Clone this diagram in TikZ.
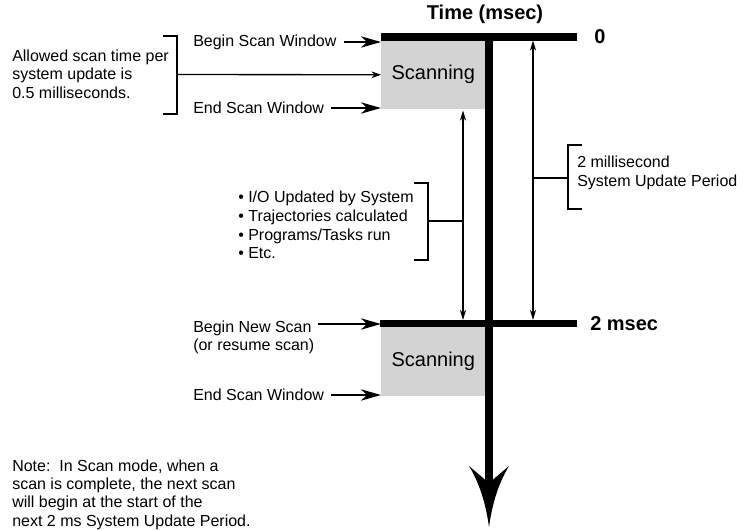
\documentclass[tikz,border=0pt]{standalone}
\usepackage{fontspec}
\setmainfont{Liberation Sans}
\usetikzlibrary{arrows.meta}
\definecolor{scangray}{HTML}{D3D3D3}
\begin{document}
\begin{tikzpicture}[x=0.75pt,y=-0.75pt,
  txt/.style={font=\fontsize{12}{14}\selectfont, inner sep=0pt, align=left},
  bigtxt/.style={font=\bfseries\fontsize{15}{18}\selectfont, inner sep=0pt},
  scanbox/.style={fill=scangray, draw=none, font=\fontsize{15}{18}\selectfont, minimum width=78pt, minimum height=51.75pt, anchor=north west, inner sep=0pt},
  bar/.style={line width=5.5pt},
  bracketline/.style={line width=1.5pt},
  thinline/.style={line width=1pt},
  bigarrow/.style={line width=1pt, -{Stealth[length=15pt,width=8.5pt,inset=4.5pt]}},
  smallarrow/.style={line width=1pt, -{Stealth[length=7pt,width=5pt,inset=2pt]}},
  dblarrow/.style={line width=1pt, {Stealth[length=7.5pt,width=4.5pt,inset=2pt]}-{Stealth[length=7.5pt,width=4.5pt,inset=2pt]}},
]
\useasboundingbox (0,0) rectangle (750,529);

% scanning boxes
\node[scanbox] (scan1) at (381,40) {Scanning};
\node[scanbox] (scan2) at (381,327) {Scanning};

% title and time labels
\node[bigtxt] (title) at (485,14) {Time (msec)};
\node[bigtxt, anchor=west] (zero) at (594,37) {0};
\node[bigtxt, anchor=west] (twoms) at (590,323.5) {2 msec};

% time bars and shaft
\coordinate (b1l) at (381,37);
\coordinate (b1r) at (577,37);
\coordinate (b2l) at (380,323.5);
\coordinate (b2r) at (577,323.5);
\draw[bar] (b1l) -- (b1r);
\draw[bar] (b2l) -- (b2r);
\coordinate (shtop) at (489,33.5);
\coordinate (shend) at (489,484);
\draw[line width=6pt] (shtop) -- (shend);
\fill (469,466) -- (489,483) -- (509,466)
  .. controls (498,484) and (492,505) .. (489,527)
  .. controls (486,505) and (480,484) .. (469,466) -- cycle;

% left labels top
\node[txt, anchor=west] (bsw) at (193,42) {Begin Scan Window};
\node[txt, anchor=west] (esw) at (193,108) {End Scan Window};
\node[txt, anchor=west] (allowed) at (12,74) {Allowed scan time per\\system update is\\0.5 milliseconds.};
\draw[bigarrow] ([xshift=5.25pt]bsw.east) -- (bsw.east -| scan1.west);
\draw[bigarrow] ([xshift=5.25pt]esw.east) -- (esw.east -| scan1.west);
\draw[bracketline] (163,36) -- (177,36) -- (177,114) -- (163,114);
\coordinate (br1) at (177,74.5);
\draw[smallarrow] (br1) -- (scan1.west);

% left labels bottom
\node[txt, anchor=west] (bns) at (193,337.5) {Begin New Scan\\(or resume scan)};
\node[txt, anchor=west] (esw2) at (193,395) {End Scan Window};
\coordinate (bnsA) at (318,324);
\draw[bigarrow] (bnsA) -- (bnsA -| scan2.west);
\draw[bigarrow] ([xshift=5.25pt]esw2.east) -- (esw2.east -| scan2.west);

% double arrows
\coordinate (d1t) at (463,110.5);
\coordinate (d1b) at (463,320);
\coordinate (d2t) at (533,40.5);
\coordinate (d2b) at (533,320);
\draw[dblarrow] (d1t) -- (d1b);
\draw[dblarrow] (d2t) -- (d2b);

% bullet list bracket
\node[txt, anchor=west] (bullets) at (238,225) {\textbullet\ I/O Updated by System\\\textbullet\ Trajectories calculated\\\textbullet\ Programs/Tasks run\\\textbullet\ Etc.};
\draw[bracketline] (414,183) -- (428,183) -- (428,260) -- (414,260);
\coordinate (br2) at (428,221);
\draw[thinline] (br2) -- (br2 -| d1t);

% period bracket
\node[txt, anchor=west] (period) at (577,173) {2 millisecond\\System Update Period};
\draw[bracketline] (582,145) -- (568,145) -- (568,209) -- (582,209);
\coordinate (br3) at (568,178);
\draw[thinline] (br3) -- (br3 -| d2t);

% note
\node[txt, font=\fontsize{12}{13.75}\selectfont, anchor=west] (note) at (12,494.5) {Note:\ \ In Scan mode, when a\\scan is complete, the next scan\\will begin at the start of the\\next 2 ms System Update Period.};
\end{tikzpicture}
\end{document}
